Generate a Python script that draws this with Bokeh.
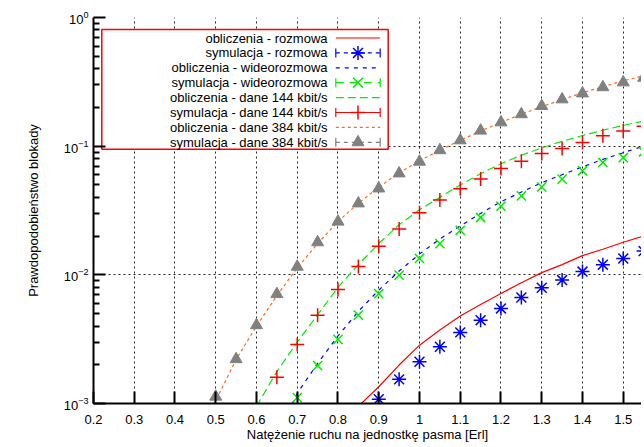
import numpy as np
from bokeh.plotting import figure
from bokeh.models import (Range1d, FixedTicker, NumeralTickFormatter, LogTickFormatter,
                          BoxAnnotation)
from bokeh.core.properties import value
from bokeh.embed import file_html
from bokeh.resources import INLINE

# ---------------- data ----------------
X_TICKS = [0.2, 0.3, 0.4, 0.5, 0.6, 0.7, 0.8, 0.9, 1.0, 1.1, 1.2, 1.3, 1.4, 1.5]
Y_TICKS = [1e-3, 1e-2, 1e-1, 1.0]

# obliczenia (calculation curves)
calc_rozmowa_x = [0.85, 0.9, 0.95, 1.0, 1.05, 1.1, 1.15, 1.2, 1.25, 1.3, 1.35, 1.4, 1.45, 1.5, 1.55]
calc_rozmowa_y = [9.5e-4, 1.35e-3, 1.99e-3, 2.84e-3, 3.72e-3, 4.78e-3, 5.89e-3, 7.17e-3, 8.67e-3,
                  1.04e-2, 1.20e-2, 1.41e-2, 1.58e-2, 1.79e-2, 2.0e-2]

calc_video_x = [0.65, 0.7, 0.75, 0.8, 0.85, 0.9, 0.95, 1.0, 1.05, 1.1, 1.15, 1.2, 1.25, 1.3, 1.35,
                1.4, 1.45, 1.5, 1.55]
calc_video_y = [5.5e-4, 1.2e-3, 2.05e-3, 3.35e-3, 5.2e-3, 7.6e-3, 1.07e-2, 1.45e-2, 1.9e-2, 2.4e-2,
                3.0e-2, 3.7e-2, 4.4e-2, 5.2e-2, 6.0e-2, 6.9e-2, 7.9e-2, 8.9e-2, 1.0e-1]

calc_144_x = [0.6, 0.65, 0.7, 0.75, 0.8, 0.85, 0.9, 0.95, 1.0, 1.05, 1.1, 1.15, 1.2, 1.25, 1.3,
              1.35, 1.4, 1.45, 1.5, 1.55]
calc_144_y = [9.5e-4, 1.77e-3, 3.0e-3, 4.9e-3, 8.0e-3, 1.2e-2, 1.75e-2, 2.45e-2, 3.2e-2, 4.0e-2,
              5.0e-2, 6.1e-2, 7.3e-2, 8.5e-2, 9.7e-2, 0.109, 0.121, 0.133, 0.145, 0.157]

calc_384_x = [0.45, 0.5, 0.55, 0.6, 0.65, 0.7, 0.75, 0.8, 0.85, 0.9, 0.95, 1.0, 1.05, 1.1, 1.15,
              1.2, 1.25, 1.3, 1.35, 1.4, 1.45, 1.5, 1.55]
calc_384_y = [5e-4, 1.05e-3, 2.2e-3, 4.0e-3, 6.9e-3, 1.13e-2, 1.75e-2, 2.6e-2, 3.6e-2, 4.8e-2,
              6.2e-2, 7.7e-2, 9.3e-2, 0.111, 0.131, 0.153, 0.177, 0.203, 0.23, 0.26, 0.29, 0.322, 0.352]

# symulacja (simulation points)
sim_rozmowa_x = [0.9, 0.95, 1.0, 1.05, 1.1, 1.15, 1.2, 1.25, 1.3, 1.35, 1.4, 1.45, 1.5, 1.55]
sim_rozmowa_y = [1.08e-3, 1.54e-3, 2.11e-3, 2.76e-3, 3.57e-3, 4.44e-3, 5.48e-3, 6.67e-3, 7.94e-3,
                 9.1e-3, 1.06e-2, 1.20e-2, 1.34e-2, 1.53e-2]

sim_video_x = [0.7, 0.75, 0.8, 0.85, 0.9, 0.95, 1.0, 1.05, 1.1, 1.15, 1.2, 1.25, 1.3, 1.35, 1.4,
               1.45, 1.5, 1.55]
sim_video_y = [1.11e-3, 1.97e-3, 3.15e-3, 4.86e-3, 7.13e-3, 9.95e-3, 1.34e-2, 1.75e-2, 2.22e-2,
               2.79e-2, 3.42e-2, 4.11e-2, 4.83e-2, 5.54e-2, 6.44e-2, 7.47e-2, 8.13e-2, 9.04e-2]

sim_144_x = [0.65, 0.7, 0.75, 0.8, 0.85, 0.9, 0.95, 1.0, 1.05, 1.1, 1.15, 1.2, 1.25, 1.3, 1.35,
             1.4, 1.45, 1.5, 1.55]
sim_144_y = [1.6e-3, 2.88e-3, 4.86e-3, 7.7e-3, 1.16e-2, 1.67e-2, 2.27e-2, 3.04e-2, 3.81e-2, 4.66e-2,
             5.56e-2, 6.7e-2, 7.64e-2, 8.77e-2, 9.6e-2, 0.107, 0.1205, 0.131, 0.143]

sim_384_x = [0.5, 0.55, 0.6, 0.65, 0.7, 0.75, 0.8, 0.85, 0.9, 0.95, 1.0, 1.05, 1.1, 1.15, 1.2,
             1.25, 1.3, 1.35, 1.4, 1.45, 1.5, 1.55]
sim_384_y = [1.13e-3, 2.21e-3, 4.06e-3, 7.08e-3, 1.156e-2, 1.79e-2, 2.59e-2, 3.59e-2, 4.69e-2,
             6.14e-2, 7.57e-2, 9.3e-2, 0.111, 0.132, 0.153, 0.177, 0.205, 0.231, 0.257, 0.287,
             0.313, 0.340]

LEGEND_LABELS = [
    "obliczenia - rozmowa",
    "symulacja - rozmowa",
    "obliczenia - wideorozmowa",
    "symulacja - wideorozmowa",
    "obliczenia - dane 144 kbit/s",
    "symulacja - dane 144 kbit/s",
    "obliczenia - dane 384 kbit/s",
    "symulacja - dane 384 kbit/s",
]

X_LABEL = "Natężenie ruchu na jednostkę pasma [Erl]"
Y_LABEL = "Prawdopodobieństwo blokady"

# ---------------- styles ----------------
RED, BLUE, GREEN, ORANGE, GRAY = "#ff0000", "#0000ff", "#00ee00", "#ff6a1a", "#808080"
FONT = "Liberation Sans"

# ---------------- figure ----------------
X0, X1 = 0.2, 1.5448
Y0, Y1 = 1e-3, 1.0
FW, FH = 548, 386

p = figure(width=641, height=444, x_range=Range1d(X0, X1), y_range=Range1d(Y0, Y1),
           y_axis_type="log", output_backend="svg", toolbar_location=None,
           min_border_left=93, min_border_right=0, min_border_top=17, min_border_bottom=41)
p.outline_line_color = None

xt = FixedTicker(ticks=X_TICKS)
minor = [m * d for d in [1e-3, 1e-2, 1e-1] for m in range(2, 10)]
yt = FixedTicker(ticks=Y_TICKS, minor_ticks=minor)
p.xaxis.ticker = xt
p.yaxis.ticker = yt
p.xaxis.formatter = NumeralTickFormatter(format="0.[0]")
p.yaxis.formatter = LogTickFormatter()

for ax in (p.xaxis[0], p.yaxis[0]):
    ax.axis_line_width = 2
    ax.axis_line_color = "black"
    ax.major_tick_in = 12
    ax.major_tick_out = 0
    ax.minor_tick_in = 6
    ax.minor_tick_out = 0
    ax.major_tick_line_width = 2
    ax.minor_tick_line_width = 2
    ax.major_label_text_font = FONT
    ax.major_label_text_font_size = "13px"
    ax.major_label_text_color = "black"
    ax.axis_label_text_font = FONT
    ax.axis_label_text_font_size = "13px"
    ax.axis_label_text_font_style = "normal"
    ax.axis_label_text_color = "black"

p.xaxis.axis_label = X_LABEL
p.yaxis.axis_label = Y_LABEL
p.xaxis.major_label_standoff = 11
p.xaxis.axis_label_standoff = 0
p.yaxis.major_label_standoff = 5
p.yaxis.axis_label_standoff = 20

for g in (p.xgrid[0], p.ygrid[0]):
    g.grid_line_color = "black"
    g.grid_line_dash = "2 3"
    g.grid_line_width = 1
    g.grid_line_alpha = 0.85

# ---------------- curves ----------------
p.line(calc_rozmowa_x, calc_rozmowa_y, line_color=RED, line_width=1.2)
p.line(calc_video_x, calc_video_y, line_color=BLUE, line_width=1.2, line_dash="4 5")
p.line(calc_144_x, calc_144_y, line_color=GREEN, line_width=1.2, line_dash="8 4")
p.line(calc_384_x, calc_384_y, line_color=ORANGE, line_width=1.2, line_dash="3 3")

p.scatter(sim_384_x, sim_384_y, marker="triangle", size=12, fill_color=GRAY, line_color=GRAY)
p.scatter(sim_144_x, sim_144_y, marker="cross", size=14, line_color=RED, line_width=1.5)
p.scatter(sim_video_x, sim_video_y, marker="x", size=13, line_color=GREEN, line_width=1.5)
p.scatter(sim_rozmowa_x, sim_rozmowa_y, marker="asterisk", size=14, line_color=BLUE, line_width=1.5)

# ---------------- legend (drawn by hand: text right, sample left->right) ----------------
def fx(px):
    return X0 + px / FW * (X1 - X0)

def fy(py):
    l1, l0 = np.log10(Y1), np.log10(Y0)
    return 10 ** (l1 - py / FH * (l1 - l0))

box = BoxAnnotation(left=fx(8.3), right=fx(294.7), top=fy(12), bottom=fy(131.7),
                    fill_color="white", fill_alpha=1.0, line_color=RED, line_width=1.5,
                    line_alpha=1.0, level="underlay")
p.add_layout(box)

rows = [20.5 + 14.9 * i for i in range(len(LEGEND_LABELS))]
p.text(x=[fx(234)] * len(rows), y=[fy(r) for r in rows], text=LEGEND_LABELS,
       text_align="right", text_baseline="middle", text_font=value(FONT),
       text_font_size="13px", text_color="black")

SX0, SX1, SXM = fx(242.3), fx(286.7), fx(264.5)
samples = [
    dict(color=RED, dash="solid", caps=False, marker=None),
    dict(color=BLUE, dash="4 4", caps=True, marker="asterisk"),
    dict(color=BLUE, dash="4 5", caps=False, marker=None),
    dict(color=GREEN, dash="8 6", caps=True, marker="x"),
    dict(color=GREEN, dash="8 4", caps=False, marker=None),
    dict(color=RED, dash="solid", caps=True, marker="cross"),
    dict(color=ORANGE, dash="3 3", caps=False, marker=None),
    dict(color=GRAY, dash="4 4", caps=True, marker="triangle"),
]
for r, s in zip(rows, samples):
    yy = fy(r)
    p.line([SX0, SX1], [yy, yy], line_color=s["color"], line_width=1.2, line_dash=s["dash"])
    if s["caps"]:
        p.segment(x0=[SX0, SX1], y0=[fy(r - 4.5)] * 2, x1=[SX0, SX1], y1=[fy(r + 4.5)] * 2,
                  line_color=s["color"], line_width=1.2)
    if s["marker"] == "triangle":
        p.scatter([SXM], [yy], marker="triangle", size=12, fill_color=GRAY, line_color=GRAY)
    elif s["marker"] is not None:
        p.scatter([SXM], [yy], marker=s["marker"], size=14, line_color=s["color"], line_width=1.5)

open("out.html", "w").write(file_html(p, INLINE, title="Prawdopodobieństwo blokady"))
